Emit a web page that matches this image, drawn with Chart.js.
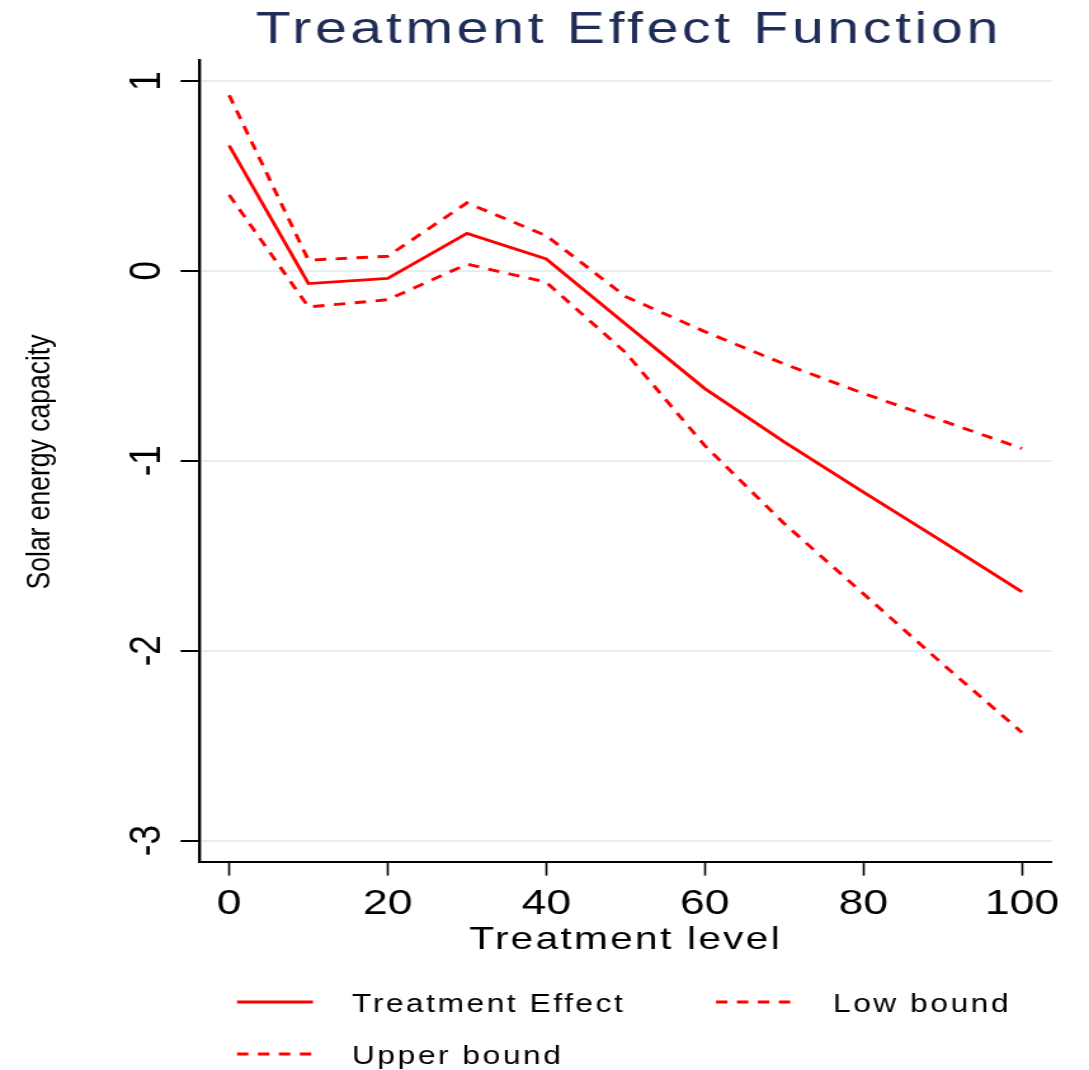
<!DOCTYPE html>
<html>
<head>
<meta charset="utf-8">
<title>Treatment Effect Function</title>
<script src="https://cdn.jsdelivr.net/npm/chart.js@4.4.1/dist/chart.umd.min.js"></script>
<style>
  html, body { margin: 0; padding: 0; background: #fff; }
</style>
</head>
<body>
<!-- canvas is drawn narrow and shown wide, like the stretched Stata export -->
<canvas id="chart" width="858" height="1070" style="display:block;width:1089px;height:1070px"></canvas>
<script>
const treatmentLevels = [0, 10, 20, 30, 40, 50, 60, 70, 80, 90, 100];
const treatmentEffect = [0.66, -0.067, -0.04, 0.197, 0.063, -0.28, -0.62, -0.90, -1.165, -1.425, -1.69];
const lowBound = [0.40, -0.19, -0.152, 0.035, -0.06, -0.43, -0.92, -1.33, -1.70, -2.07, -2.43];
const upperBound = [0.925, 0.056, 0.077, 0.358, 0.185, -0.135, -0.32, -0.49, -0.645, -0.79, -0.935];
const seriesNames = ['Treatment Effect', 'Low bound', 'Upper bound'];
const xTicks = [0, 20, 40, 60, 80, 100];
const yTicks = [1, 0, -1, -2, -3];

const FONT = "'Liberation Sans', Arial, sans-serif";
const RED = '#ff0000';
const DASH = [9, 7.5];

function toPoints(values) {
  return treatmentLevels.map((x, i) => ({ x: x, y: values[i] }));
}

// text with a bit of tracking, anchored by its centre or left edge
function drawText(ctx, text, x, y, size, spacing, color, align) {
  ctx.save();
  ctx.font = size + 'px ' + FONT;
  ctx.fillStyle = color;
  ctx.textBaseline = 'alphabetic';
  ctx.textAlign = 'left';
  if ('letterSpacing' in ctx) ctx.letterSpacing = spacing + 'px';
  let w = ctx.measureText(text).width - spacing;
  let left = align === 'center' ? x - w / 2 : x;
  ctx.fillText(text, left, y);
  ctx.restore();
}

function drawRotated(ctx, text, x, y, size) {
  ctx.save();
  ctx.translate(x, y);
  ctx.rotate(-Math.PI / 2);
  ctx.font = size + 'px ' + FONT;
  ctx.fillStyle = '#000';
  ctx.textAlign = 'center';
  ctx.textBaseline = 'alphabetic';
  ctx.fillText(text, 0, 0);
  ctx.restore();
}

const textPlugin = {
  id: 'stataText',
  afterDraw(chart) {
    const ctx = chart.ctx;
    const yScale = chart.scales.y;

    drawText(ctx, 'Treatment Effect Function', 494, 43, 45, 2.9, '#1f2d56', 'center');
    drawText(ctx, 'Treatment level', 492, 949, 32, 1.8, '#000', 'center');
    drawRotated(ctx, 'Solar energy capacity', 39.4, 462, 26.5);

    // vertical tick labels on the y axis
    yTicks.forEach(v => {
      drawRotated(ctx, String(v), 126, yScale.getPixelForValue(v), 35);
    });

    // legend: two columns, row-major
    const slots = [
      { x0: 186.7, x1: 246.6, tx: 277.3, y: 1002 },
      { x0: 564.1, x1: 624.8, tx: 656.3, y: 1002 },
      { x0: 186.7, x1: 246.6, tx: 277.3, y: 1054 }
    ];
    chart.data.datasets.forEach((ds, i) => {
      const s = slots[i];
      ctx.save();
      ctx.strokeStyle = ds.borderColor;
      ctx.lineWidth = ds.borderWidth;
      ctx.setLineDash(ds.borderDash || []);
      ctx.beginPath();
      ctx.moveTo(s.x0, s.y);
      ctx.lineTo(s.x1, s.y);
      ctx.stroke();
      ctx.restore();
      drawText(ctx, ds.label, s.tx, s.y + 10, 25, 2.0, '#000', 'left');
    });
  }
};

new Chart(document.getElementById('chart'), {
  type: 'line',
  data: {
    datasets: [
      { label: seriesNames[0], data: toPoints(treatmentEffect), borderColor: RED, borderWidth: 2.9 },
      { label: seriesNames[1], data: toPoints(lowBound), borderColor: RED, borderWidth: 2.9, borderDash: DASH },
      { label: seriesNames[2], data: toPoints(upperBound), borderColor: RED, borderWidth: 2.9, borderDash: DASH }
    ]
  },
  options: {
    responsive: false,
    animation: false,
    layout: { padding: { left: 142.3, right: 29.1, top: 60, bottom: 137.6 } },
    elements: { point: { radius: 0 }, line: { tension: 0, fill: false } },
    plugins: { legend: { display: false }, tooltip: { enabled: false }, title: { display: false } },
    scales: {
      x: {
        type: 'linear',
        min: -3.8,
        max: 103.8,
        afterBuildTicks: axis => { axis.ticks = xTicks.map(v => ({ value: v })); },
        ticks: { font: { family: FONT, size: 35 }, color: '#000', padding: 7.4, maxRotation: 0 },
        grid: { drawOnChartArea: false, tickLength: 14, tickColor: '#000', tickWidth: 1.6 },
        border: { color: '#000', width: 2 }
      },
      y: {
        type: 'linear',
        min: -3.11,
        max: 1.11,
        afterBuildTicks: axis => { axis.ticks = yTicks.map(v => ({ value: v })); },
        ticks: { display: false },
        grid: { color: '#e6eff0', lineWidth: 2, tickLength: 14.5, tickColor: '#000', tickWidth: 2 },
        border: { color: '#000', width: 2.4 }
      }
    }
  },
  plugins: [textPlugin]
});
</script>
</body>
</html>
